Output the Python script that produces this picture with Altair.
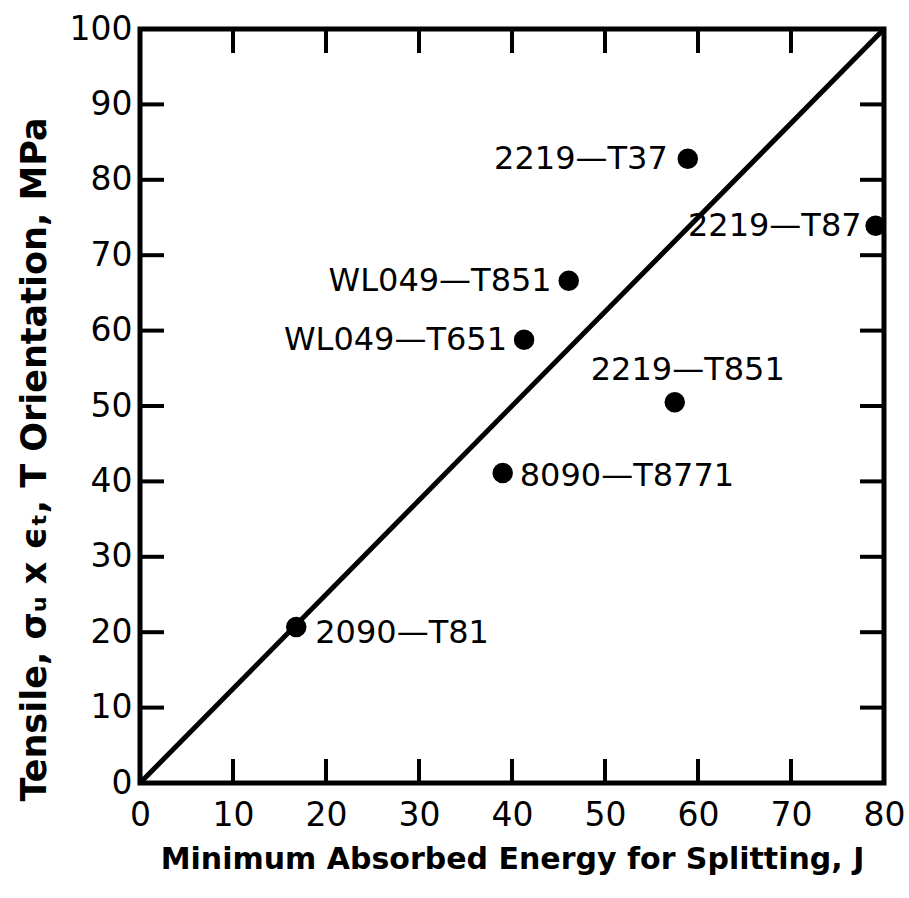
import altair as alt
import pandas as pd

# Alloy data: minimum absorbed energy for splitting (J) vs tensile sigma_u x eps_t (MPa)
alloys = ["2090—T81", "8090—T8771", "WL049—T651", "WL049—T851",
          "2219—T37", "2219—T851", "2219—T87"]
energy = [16.8, 39.0, 41.3, 46.1, 58.9, 57.5, 79.1]
tensile = [20.7, 41.1, 58.8, 66.6, 82.8, 50.5, 73.9]

# Reference diagonal
diag_x = [0, 80]
diag_y = [0, 100]

x_ticks = [10, 20, 30, 40, 50, 60, 70]
y_ticks = [10, 20, 30, 40, 50, 60, 70, 80, 90]

W, H = 744, 754
FONT = "DejaVu Sans"

pts = pd.DataFrame({"alloy": alloys, "energy": energy, "tensile": tensile})
diag = pd.DataFrame({"energy": diag_x, "tensile": diag_y})
xt = pd.DataFrame({"v": x_ticks})
yt = pd.DataFrame({"v": y_ticks})

xscale = alt.Scale(domain=[0, 80], nice=False, zero=False)
yscale = alt.Scale(domain=[0, 100], nice=False, zero=False)

x_enc = alt.X("energy:Q", scale=xscale,
              axis=alt.Axis(values=[0, 10, 20, 30, 40, 50, 60, 70, 80],
                            title="Minimum Absorbed Energy for Splitting, J",
                            domain=False, ticks=False, grid=False,
                            labelFont=FONT, labelFontSize=33, labelColor="black",
                            labelPadding=16, labelFlush=False,
                            titleFont=FONT, titleFontSize=30, titleFontWeight="bold",
                            titleColor="black", titlePadding=12))
y_enc = alt.Y("tensile:Q", scale=yscale,
              axis=alt.Axis(values=[0, 10, 20, 30, 40, 50, 60, 70, 80, 90, 100],
                            title="Tensile, σᵤ x ϵₜ, T Orientation, MPa",
                            domain=False, ticks=False, grid=False,
                            labelFont=FONT, labelFontSize=33, labelColor="black",
                            labelPadding=8, labelFlush=False,
                            titleFont=FONT, titleFontSize=35, titleFontWeight="bold",
                            titleColor="black", titlePadding=17, titleY=430))

line = alt.Chart(diag).mark_line(color="black", strokeWidth=5).encode(x=x_enc, y=y_enc)

points = alt.Chart(pts).mark_circle(color="black", opacity=1, size=420).encode(
    x=alt.X("energy:Q", scale=xscale), y=alt.Y("tensile:Q", scale=yscale))

# Inward-pointing ticks on all four sides
TL = 24
tick_style = dict(color="black", strokeWidth=4)
bottom_ticks = alt.Chart(xt).mark_rule(**tick_style).encode(
    x=alt.X("v:Q", scale=xscale), y=alt.value(H), y2=alt.value(H - TL))
top_ticks = alt.Chart(xt).mark_rule(**tick_style).encode(
    x=alt.X("v:Q", scale=xscale), y=alt.value(0), y2=alt.value(TL))
left_ticks = alt.Chart(yt).mark_rule(**tick_style).encode(
    y=alt.Y("v:Q", scale=yscale), x=alt.value(0), x2=alt.value(TL))
right_ticks = alt.Chart(yt).mark_rule(**tick_style).encode(
    y=alt.Y("v:Q", scale=yscale), x=alt.value(W), x2=alt.value(W - TL))

# Label placement per alloy: (align, dx, dy)
placement = {
    "2090—T81": ("left", 19, 6),
    "8090—T8771": ("left", 17, 3),
    "WL049—T651": ("right", -17, 0),
    "WL049—T851": ("right", -17, 0),
    "2219—T37": ("right", -20, 0),
    "2219—T851": ("center", 13, -32),
    "2219—T87": ("right", -14, 0),
}
labels = []
for name, (align, dx, dy) in placement.items():
    labels.append(
        alt.Chart(pts).transform_filter(alt.datum.alloy == name)
        .mark_text(font=FONT, fontSize=32, color="black", align=align,
                   baseline="middle", dx=dx, dy=dy)
        .encode(x=alt.X("energy:Q", scale=xscale),
                y=alt.Y("tensile:Q", scale=yscale), text="alloy:N")
    )

chart = alt.layer(line, bottom_ticks, top_ticks, left_ticks, right_ticks,
                  points, *labels).properties(
    width=W, height=H,
    autosize=alt.AutoSizeParams(type="none"),
    padding={"left": 140, "top": 29, "right": 25, "bottom": 115},
).configure(background="white").configure_view(stroke="black", strokeWidth=5)

chart.save("out.html", embed_options={"renderer": "svg", "actions": False})
